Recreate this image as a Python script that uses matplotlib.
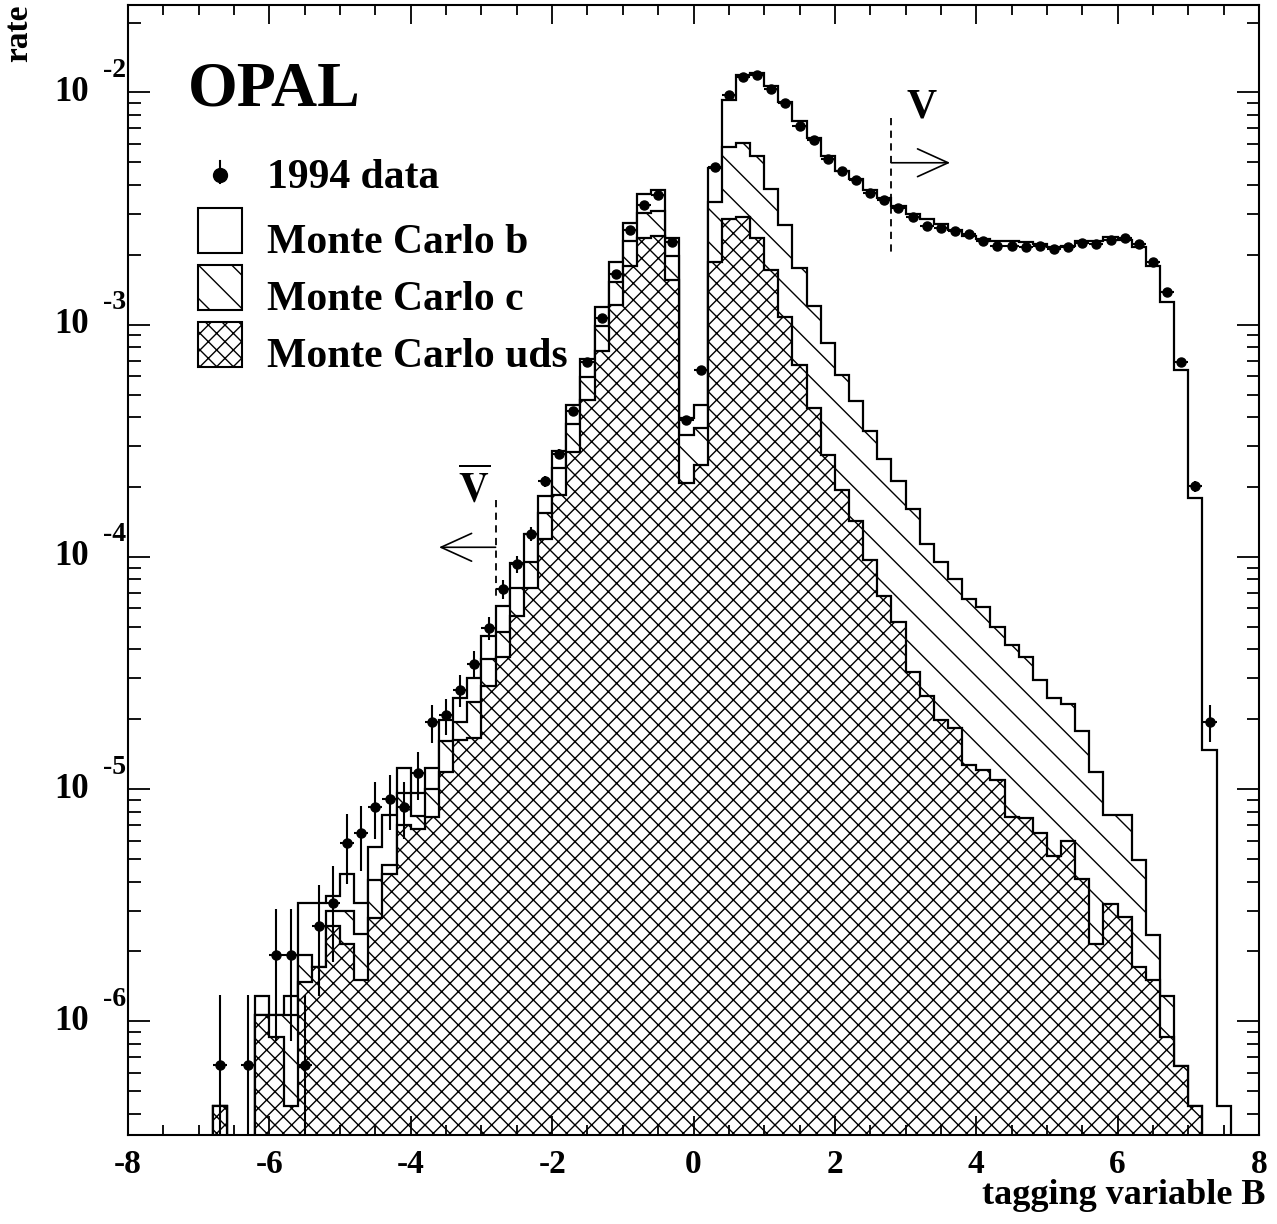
import numpy as np
import matplotlib
matplotlib.use('Agg')
import matplotlib.pyplot as plt
import matplotlib.transforms as mtransforms
from matplotlib.patches import Rectangle
from matplotlib.ticker import MultipleLocator, LogLocator, NullFormatter

plt.rcParams['font.family'] = ['Liberation Serif', 'DejaVu Serif']
plt.rcParams['font.weight'] = 'bold'
plt.rcParams['mathtext.fontset'] = 'stix'
plt.rcParams['axes.unicode_minus'] = False
plt.rcParams['hatch.linewidth'] = 1.0

# 80 bins of width 0.2 from -8 to 8
edges = np.round(np.arange(-8.0, 8.0001, 0.2), 1)

# b + c + uds (outer histogram)
mc_total = np.array([
    0, 0, 0, 0, 0, 0, 4.30e-7, 0, 0, 1.29e-6,
    1.07e-6, 1.29e-6, 3.23e-6, 3.23e-6, 3.45e-6, 4.32e-6, 3.23e-6, 5.62e-6, 7.74e-6, 1.23e-5,
    9.59e-6, 1.23e-5, 1.99e-5, 2.46e-5, 3.02e-5, 4.57e-5, 6.17e-5, 9.40e-5, 1.26e-4, 1.82e-4,
    2.87e-4, 4.52e-4, 7.10e-4, 1.19e-3, 1.87e-3, 2.74e-3, 3.66e-3, 3.79e-3, 2.37e-3, 3.95e-4,
    4.52e-4, 4.71e-3, 9.29e-3, 1.19e-2, 1.21e-2, 1.07e-2, 9.14e-3, 7.55e-3, 6.37e-3, 5.30e-3,
    4.57e-3, 4.24e-3, 3.79e-3, 3.52e-3, 3.24e-3, 3.01e-3, 2.84e-3, 2.72e-3, 2.56e-3, 2.42e-3,
    2.33e-3, 2.30e-3, 2.29e-3, 2.26e-3, 2.23e-3, 2.17e-3, 2.19e-3, 2.30e-3, 2.30e-3, 2.39e-3,
    2.32e-3, 2.17e-3, 1.79e-3, 1.25e-3, 6.38e-4, 1.79e-4, 1.48e-5, 4.30e-7, 0, 0])

# c + uds
mc_c_uds = np.array([
    0, 0, 0, 0, 0, 0, 4.30e-7, 0, 0, 1.07e-6,
    1.07e-6, 1.07e-6, 1.94e-6, 1.72e-6, 3.00e-6, 3.00e-6, 2.38e-6, 4.06e-6, 4.72e-6, 9.59e-6,
    7.67e-6, 1.00e-5, 1.61e-5, 1.95e-5, 2.38e-5, 3.64e-5, 4.75e-5, 7.33e-5, 9.55e-5, 1.54e-4,
    2.41e-4, 3.74e-4, 5.97e-4, 9.91e-4, 1.53e-3, 2.30e-3, 3.03e-3, 3.10e-3, 1.98e-3, 3.35e-4,
    3.58e-4, 3.38e-3, 5.81e-3, 6.08e-3, 5.30e-3, 3.85e-3, 2.69e-3, 1.75e-3, 1.20e-3, 8.30e-4,
    6.08e-4, 4.67e-4, 3.47e-4, 2.64e-4, 2.13e-4, 1.60e-4, 1.14e-4, 9.46e-5, 8.07e-5, 6.58e-5,
    6.11e-5, 5.01e-5, 4.17e-5, 3.72e-5, 2.95e-5, 2.46e-5, 2.32e-5, 1.78e-5, 1.19e-5, 7.74e-6,
    7.74e-6, 4.95e-6, 2.35e-6, 1.29e-6, 6.43e-7, 4.30e-7, 0, 0, 0, 0])

# uds only
mc_uds = np.array([
    0, 0, 0, 0, 0, 0, 4.30e-7, 0, 0, 1.07e-6,
    8.59e-7, 4.30e-7, 1.48e-6, 1.72e-6, 2.58e-6, 2.15e-6, 1.51e-6, 2.78e-6, 4.32e-6, 7.01e-6,
    6.76e-6, 7.57e-6, 1.19e-5, 1.63e-5, 1.66e-5, 2.79e-5, 3.70e-5, 5.57e-5, 7.35e-5, 1.20e-4,
    1.85e-4, 2.84e-4, 4.74e-4, 7.74e-4, 1.21e-3, 1.79e-3, 2.36e-3, 2.41e-3, 1.56e-3, 2.09e-4,
    2.49e-4, 1.87e-3, 2.84e-3, 2.92e-3, 2.36e-3, 1.72e-3, 1.08e-3, 6.71e-4, 4.37e-4, 2.75e-4,
    1.95e-4, 1.43e-4, 9.70e-5, 6.81e-5, 5.24e-5, 3.18e-5, 2.52e-5, 1.99e-5, 1.83e-5, 1.27e-5,
    1.21e-5, 1.10e-5, 7.57e-6, 7.50e-6, 6.50e-6, 5.15e-6, 5.98e-6, 4.09e-6, 2.15e-6, 3.19e-6,
    2.80e-6, 1.71e-6, 1.51e-6, 8.59e-7, 6.43e-7, 4.30e-7, 0, 0, 0, 0])

# 1994 data and its errors
data = np.array([
    0, 0, 0, 0, 0, 0, 6.46e-7, 0, 6.46e-7, 0,
    1.94e-6, 1.94e-6, 6.46e-7, 2.58e-6, 3.24e-6, 5.85e-6, 6.46e-6, 8.41e-6, 9.08e-6, 8.41e-6,
    1.17e-5, 1.94e-5, 2.08e-5, 2.67e-5, 3.45e-5, 4.94e-5, 7.26e-5, 9.33e-5, 1.26e-4, 2.12e-4,
    2.78e-4, 4.23e-4, 6.93e-4, 1.07e-3, 1.66e-3, 2.55e-3, 3.28e-3, 3.61e-3, 2.26e-3, 3.89e-4,
    6.38e-4, 4.79e-3, 9.72e-3, 1.17e-2, 1.19e-2, 1.03e-2, 8.99e-3, 7.18e-3, 6.22e-3, 5.19e-3,
    4.57e-3, 4.18e-3, 3.69e-3, 3.43e-3, 3.18e-3, 2.90e-3, 2.67e-3, 2.62e-3, 2.52e-3, 2.46e-3,
    2.30e-3, 2.19e-3, 2.19e-3, 2.17e-3, 2.19e-3, 2.12e-3, 2.17e-3, 2.24e-3, 2.23e-3, 2.32e-3,
    2.37e-3, 2.23e-3, 1.87e-3, 1.38e-3, 6.89e-4, 2.01e-4, 1.95e-5, 0, 0, 0])

data_err = np.array([
    0, 0, 0, 0, 0, 0, 6.5e-7, 0, 6.5e-7, 0,
    1.12e-6, 1.12e-6, 6.5e-7, 1.29e-6, 1.44e-6, 1.94e-6, 2.04e-6, 2.33e-6, 2.42e-6, 2.33e-6,
    2.74e-6, 3.54e-6, 3.66e-6, 4.15e-6, 4.7e-6, 5.6e-6, 6.8e-6, 7.8e-6, 9.0e-6, 1.2e-5,
    1.3e-5, 1.7e-5, 2.1e-5, 2.6e-5, 3.3e-5, 4.1e-5, 4.6e-5, 4.8e-5, 3.8e-5, 1.6e-5,
    2.0e-5, 5.6e-5, 7.9e-5, 8.7e-5, 8.8e-5, 8.2e-5, 7.6e-5, 6.8e-5, 6.3e-5, 5.8e-5,
    5.4e-5, 5.2e-5, 4.9e-5, 4.7e-5, 4.5e-5, 4.3e-5, 4.2e-5, 4.1e-5, 4.0e-5, 4.0e-5,
    3.9e-5, 3.8e-5, 3.8e-5, 3.7e-5, 3.8e-5, 3.7e-5, 3.7e-5, 3.8e-5, 3.8e-5, 3.9e-5,
    3.9e-5, 3.8e-5, 3.5e-5, 3.0e-5, 2.1e-5, 1.1e-5, 3.5e-6, 0, 0, 0])

cut_v = 2.8
y_ticks = [1e-6, 1e-5, 1e-4, 1e-3, 1e-2]

floor = 1e-9
def show(v):
    return np.where(v > 0, v, floor)

fig = plt.figure(figsize=(12.77, 12.24), dpi=100)
ax = fig.add_axes([128 / 1277, 1 - 1135 / 1224, 1131 / 1277, 1130 / 1224])
ax.set_yscale('log', nonpositive='clip')
ax.set_xlim(-8, 8)
ax.set_ylim(3.24e-7, 2.38e-2)

ax.stairs(show(mc_total), edges, baseline=floor, fill=True,
          facecolor='white', edgecolor='black', linewidth=1.6)
ax.stairs(show(mc_c_uds), edges, baseline=floor, fill=True,
          facecolor='white', edgecolor='black', linewidth=1.6, hatch='\\')
ax.stairs(show(mc_uds), edges, baseline=floor, fill=True,
          facecolor='white', edgecolor='black', linewidth=1.6, hatch='xx')

centers = 0.5 * (edges[:-1] + edges[1:])
m = data > 0
lower = np.minimum(data_err[m], data[m] * 0.999)
ax.errorbar(centers[m], data[m], xerr=0.1, yerr=[lower, data_err[m]],
            fmt='o', color='black', ms=6.5, elinewidth=1.5, capsize=0, zorder=5)

# ticks
ax.xaxis.set_major_locator(MultipleLocator(2))
ax.xaxis.set_minor_locator(MultipleLocator(0.5))
ax.yaxis.set_major_locator(LogLocator(base=10, numticks=20))
ax.yaxis.set_minor_locator(LogLocator(base=10, subs=np.arange(2, 10), numticks=20))
ax.yaxis.set_minor_formatter(NullFormatter())
ax.tick_params(which='both', direction='in', top=True, right=True, width=1.3)
ax.tick_params(axis='x', which='major', length=14, labelsize=24, pad=10)
ax.tick_params(axis='x', which='minor', length=7)
ax.tick_params(axis='y', which='major', length=16, labelleft=False)
ax.tick_params(axis='y', which='minor', length=9)
for s in ax.spines.values():
    s.set_linewidth(1.5)

ytr = ax.get_yaxis_transform()
sup_tr = ytr + mtransforms.ScaledTranslation(0, 0.22, fig.dpi_scale_trans)
for t in y_ticks:
    ax.text(-0.0345, t, '10', transform=ytr, ha='right', va='center', fontsize=25)
    ax.text(-0.0225, t, str(int(round(np.log10(t)))), transform=sup_tr,
            ha='left', va='center', fontsize=20)

fig.text(19 / 1277, 1 - 5 / 1224, 'rate', rotation=90, ha='center', va='top', fontsize=24)
fig.text(1266 / 1277, 1 - 1195 / 1224, 'tagging variable B', ha='right', va='center', fontsize=26)

# cut markers
ax.plot([cut_v, cut_v], [7.76e-3, 2.06e-3], color='black', lw=1.3, ls=(0, (4, 3)))
ax.annotate('', xy=(3.63, 4.98e-3), xytext=(cut_v, 4.98e-3),
            arrowprops=dict(arrowstyle='->,head_length=2.2,head_width=1.0',
                            lw=1.2, color='black', shrinkA=0, shrinkB=0))
ax.text(3.23, 8.6e-3, 'V', ha='center', va='center', fontsize=30)

ax.plot([-cut_v, -cut_v], [1.75e-4, 6.49e-5], color='black', lw=1.3, ls=(0, (4, 3)))
ax.annotate('', xy=(-3.6, 1.1e-4), xytext=(-cut_v, 1.1e-4),
            arrowprops=dict(arrowstyle='->,head_length=2.2,head_width=1.0',
                            lw=1.2, color='black', shrinkA=0, shrinkB=0))
ax.text(-3.1, 1.95e-4, r'$\overline{\mathbf{V}}$', ha='center', va='center', fontsize=30)

# OPAL + legend
ax.text(0.053, 0.9115, 'OPAL', transform=ax.transAxes, fontsize=46, va='baseline')
ax.plot([0.0813, 0.0813], [0.8425, 0.8619], color='black', lw=1.5, transform=ax.transAxes)
ax.plot([0.0813], [0.8496], 'o', color='black', ms=10, transform=ax.transAxes)
legend_boxes = [(0.7805, None, 'Monte Carlo b'),
                (0.7301, '\\', 'Monte Carlo c'),
                (0.6796, 'xx', 'Monte Carlo uds')]
for yb, h, label in legend_boxes:
    ax.add_patch(Rectangle((0.0619, yb), 0.0389, 0.0398, transform=ax.transAxes,
                           facecolor='white', edgecolor='black', lw=1.5, hatch=h))
    ax.text(0.1229, yb, label, transform=ax.transAxes, fontsize=30, va='baseline')
ax.text(0.1229, 0.838, '1994 data', transform=ax.transAxes, fontsize=30, va='baseline')

fig.savefig('out.png', dpi=100)
